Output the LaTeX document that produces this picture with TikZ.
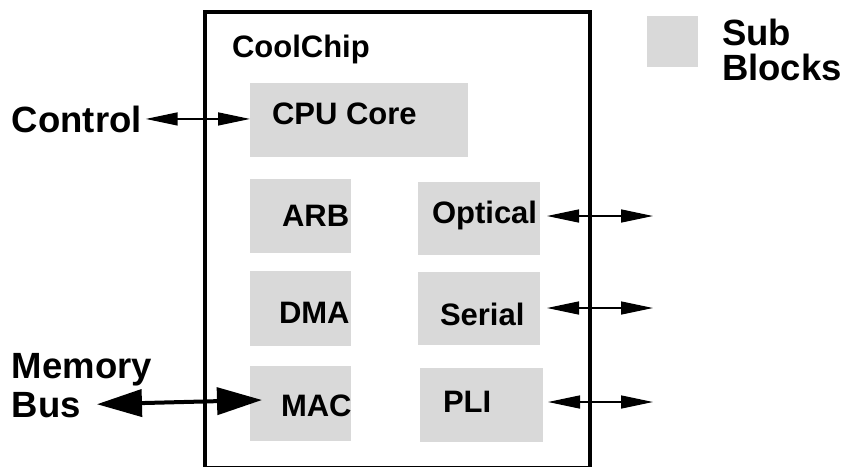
\documentclass[tikz,border=0pt]{standalone}
\usepackage{fontspec}
\setmainfont{Liberation Sans}
\usetikzlibrary{arrows.meta,calc}
\definecolor{blockgray}{RGB}{217,217,217}
\begin{document}
\begin{tikzpicture}[x=1pt,y=-1pt,
  blockbox/.style={fill=blockgray, draw=none, inner sep=0pt, outer sep=0pt, anchor=north west},
  blocktext/.style={font=\fontsize{31}{31}\selectfont\bfseries, inner sep=0pt, outer sep=0pt, anchor=base west},
  labeltext/.style={font=\fontsize{36.5}{36.5}\selectfont\bfseries, inner sep=0pt, outer sep=0pt, anchor=base west},
  thinlink/.style={line width=1.5pt, {Triangle[length=32pt,width=13pt]}-{Triangle[length=32pt,width=13pt]}},
  buslink/.style={line width=4pt, {Triangle[length=45pt,width=27pt]}-{Triangle[length=45pt,width=27pt]}},
]
\useasboundingbox (0,0) rectangle (845,466);
\clip (0,0) rectangle (845,466);

% chip outline
\node[draw, line width=4pt, inner sep=0pt, outer sep=0pt, anchor=north west,
      minimum width=385pt, minimum height=455.5pt] (chip) at (205,12) {};

% sub blocks
\node[blockbox, minimum width=218pt, minimum height=74pt] (cpu) at (250,83) {};
\node[blockbox, minimum width=101pt, minimum height=74pt] (arb) at (250,179) {};
\node[blockbox, minimum width=122pt, minimum height=73pt] (opt) at (418,182) {};
\node[blockbox, minimum width=101pt, minimum height=75pt] (dma) at (250,271) {};
\node[blockbox, minimum width=122pt, minimum height=73pt] (ser) at (418,272) {};
\node[blockbox, minimum width=101pt, minimum height=75pt] (mac) at (250,366) {};
\node[blockbox, minimum width=123pt, minimum height=74pt] (pli) at (420,368) {};

% legend swatch
\node[blockbox, minimum width=51pt, minimum height=51pt] (legend) at (647,16) {};

% texts
\node[blocktext] (chiptext) at (232,57) {CoolChip};
\node[blocktext] (cputext) at (272,124) {CPU Core};
\node[blocktext] (arbtext) at (282,226) {ARB};
\node[blocktext] (opttext) at (432,223) {Optical};
\node[blocktext] (dmatext) at (279,323) {DMA};
\node[blocktext] (sertext) at (440,325) {Serial};
\node[blocktext] (mactext) at (281,416) {MAC};
\node[blocktext] (plitext) at (443,412) {PLI};

\node[labeltext] (control) at (12,132) {Control};
\node[labeltext] (memory) at (12,378) {Memory};
\node[labeltext] (bus) at (12,417) {Bus};
\node[labeltext] (sub) at (722,45) {Sub};
\node[labeltext] (blocks) at (722,80) {Blocks};

% free ends of the off-chip links
\coordinate (optout) at (653,216);
\coordinate (serout) at (653,308);
\coordinate (pliout) at (653,402);
\coordinate (busin) at ($(mac.west)+(12,-3.5)$);

% connectors
\draw[thinlink, shorten <=4pt] (control.east) -- (control.east -| cpu.west);
\draw[thinlink, shorten <=7pt] (opt.east |- optout) -- (optout);
\draw[thinlink, shorten <=7pt] (ser.east |- serout) -- (serout);
\draw[thinlink, shorten <=5pt] (pli.east |- pliout) -- (pliout);
\draw[buslink, shorten <=16pt] (bus.east) -- (busin);
\end{tikzpicture}
\end{document}
